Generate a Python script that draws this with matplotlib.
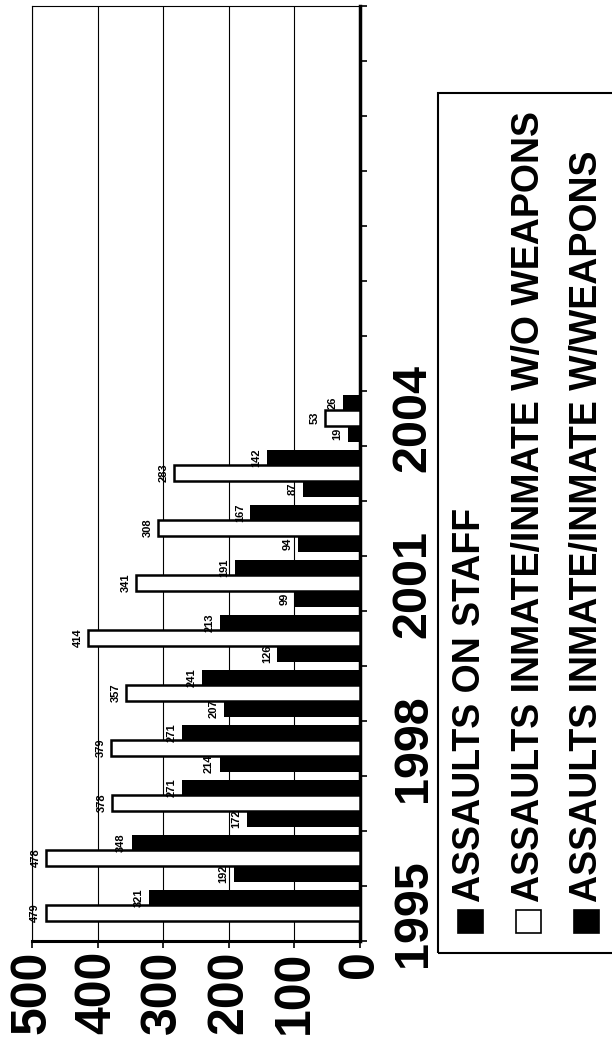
import numpy as np
import matplotlib
matplotlib.use("Agg")
import matplotlib.pyplot as plt
from matplotlib.patches import Rectangle

plt.rcParams['font.family'] = ['Liberation Sans', 'DejaVu Sans']

# values
years = ['1995', '1996', '1997', '1998', '1999', '2000', '2001', '2002', '2003', '2004']
staff = [np.nan, 192, 172, 214, 207, 126, 99, 94, 87, 19]
no_weapons = [479, 478, 378, 379, 357, 414, 341, 308, 283, 53]
weapons = [321, 348, 271, 271, 241, 213, 191, 167, 142, 26]
series_names = ['ASSAULTS ON STAFF',
                'ASSAULTS INMATE/INMATE W/O WEAPONS',
                'ASSAULTS INMATE/INMATE W/WEAPONS']
value_ticks = [0, 100, 200, 300, 400, 500]
n_slots = 17  # category axis runs on past 2004 with empty slots

W, H = 612, 1045
fig = plt.figure(figsize=(W / 100, H / 100), dpi=100)
# the whole chart is turned on its side: values run right to left
ax = fig.add_axes([32 / W, 1 - 941 / H, (360 - 32) / W, (941 - 6) / H])

pos = np.arange(len(years))
ax.barh(pos + 0.22, staff, height=0.28, color='black', zorder=2)
ax.barh(pos + 0.51, no_weapons, height=0.28, color='white',
        edgecolor='black', linewidth=1.8, zorder=3)
ax.barh(pos + 0.79, weapons, height=0.27, color='black', zorder=2)

# data labels
for vals, off in [(staff, 0.22), (no_weapons, 0.51), (weapons, 0.79)]:
    for i, v in enumerate(vals):
        if np.isnan(v):
            continue
        ax.text(v + 16, pos[i] + off, str(int(v)), rotation=90,
                ha='center', va='center', fontsize=8, fontweight='bold')

ax.set_xlim(500, 0)
ax.set_ylim(0, n_slots)

ax.set_xticks(value_ticks)
ax.set_xticklabels([str(v) for v in value_ticks], rotation=90,
                   fontsize=36, fontweight='bold')
ax.tick_params(axis='x', direction='out', length=5, width=1.2, pad=2)
ax.grid(axis='x', color='black', linewidth=0.8)
ax.set_axisbelow(True)

ax.yaxis.tick_right()
ax.set_yticks(np.arange(n_slots + 1), minor=True)
ax.tick_params(axis='y', which='minor', direction='out', length=5, width=1.2)
label_idx = list(range(0, len(years), 3))
ax.set_yticks([i + 0.5 for i in label_idx])
ax.set_yticklabels([years[i] for i in label_idx], rotation=90, va='center',
                   fontsize=35, fontweight='bold')
ax.tick_params(axis='y', which='major', length=0, pad=22)

ax.spines['right'].set_linewidth(2.5)
ax.spines['bottom'].set_linewidth(2.2)
ax.spines['left'].set_linewidth(0.8)
ax.spines['top'].set_linewidth(0.8)

# legend box, drawn by hand because its text is turned too
fig.add_artist(Rectangle((438 / W, 1 - 953 / H), (660 - 438) / W, (953 - 93) / H,
                         transform=fig.transFigure, fill=False,
                         edgecolor='black', linewidth=1.5))
fills = ['black', 'white', 'black']
for k, name in enumerate(series_names):
    x0 = 458 + k * 58
    fig.add_artist(Rectangle((x0 / W, 1 - 933 / H), 25 / W, 23 / H,
                             transform=fig.transFigure, facecolor=fills[k],
                             edgecolor='black', linewidth=1.2))
    fig.text((x0 + 12.5) / W, 1 - 902 / H, name, rotation=90,
             ha='center', va='bottom', fontsize=27, fontweight='bold')

fig.savefig('out.png', dpi=100)
